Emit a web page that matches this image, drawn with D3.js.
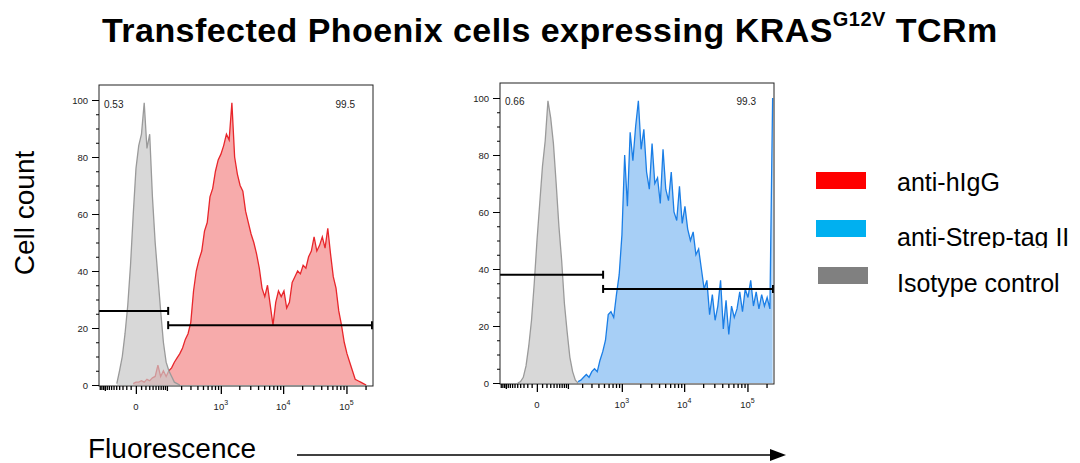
<!DOCTYPE html>
<html>
<head>
<meta charset="utf-8">
<script src="https://cdn.jsdelivr.net/npm/d3@7"></script>
<style>
  body { margin: 0; background: #fff; }
  svg { font-family: "Liberation Sans", Arial, sans-serif; }
</style>
</head>
<body>
<div id="chartdiv"></div>
<script>
/* --- data --- */

// histogram bins span the whole (biexponential-like) x axis
let binCount = 100
let xMin = -135
let xMax = 262143
let symC = 48

// anti-hIgG (left panel), counts per bin starting at bin redStart
let redStart = 12
let redCounts = [0.5, 1, 1, 1.5, 1, 2, 1.5, 2.5, 3, 7, 3, 5, 3, 5, 6, 8, 9.5, 11, 13, 16,
  18, 22, 33, 40, 44, 47, 54, 57, 66, 69, 75, 79, 81, 84, 88, 86, 99, 80, 74, 70,
  68, 61, 57, 53, 50, 46, 41, 34, 31, 35, 28, 21, 29, 33, 31, 33, 27, 29, 36, 38,
  40, 39, 42, 41, 45, 47, 52, 47, 49, 52, 48, 55, 46, 38, 34, 26, 21, 15, 11, 8,
  5, 2, 1.5, 1, 0.5, 0]

// isotype control, left panel
let isoLeftStart = 6
let isoLeftCounts = [0.5, 5, 10, 18, 28, 42, 60, 76, 84, 88, 99, 83, 88, 66, 50, 38, 26, 15, 8, 5,
  3, 1, 0.5, 0]

// anti-Strep-tag II (right panel)
let blueStart = 28
let blueCounts = [0.5, 1, 2, 3, 2, 4, 5, 4, 8, 11, 15, 24, 25, 23, 31, 38, 52, 80, 62, 88,
  78, 90, 99, 82, 89, 74, 68, 84, 70, 72, 63, 82, 68, 64, 74, 60, 57, 69, 56, 62,
  54, 50, 53, 45, 47, 40, 33, 36, 24, 31, 22, 27, 36, 19, 29, 17, 27, 23, 26, 32,
  25, 33, 30, 36, 27, 32, 26, 31, 27, 30, 26, 100]

// isotype control, right panel
let isoRightStart = 6
let isoRightCounts = [0, 0.5, 2, 6, 13, 22, 35, 50, 63, 76, 85, 99, 93, 84, 70, 55, 43, 28, 18, 9,
  4, 1, 0]

// gates: [split value, left gate height, right gate height]
let gateSplit = [107, 483]
let gateLow = [26, 38]
let gateHigh = [21, 33]
let gateLabelsLeft = ["0.53", "0.66"]
let gateLabelsRight = ["99.5", "99.3"]

let yTicks = [0, 20, 40, 60, 80, 100]
let xMajor = [0, 1000, 10000, 100000]
let xMajorLabels = [["0", ""], ["10", "3"], ["10", "4"], ["10", "5"]]

let legendNames = ["anti-hIgG", "anti-Strep-tag II", "Isotype control"]
let legendColors = ["#ff0000", "#00b0f0", "#808080"]

/* -------------------- */

let width = 1080
let height = 463
let panelW = 274
let panelH = 301

let svg = d3.select('#chartdiv')
  .append('svg')
  .attr("width", width)
  .attr("height", height)

// bin centres in fluorescence units (evenly spaced on the transformed axis)
let sym = v => Math.sign(v) * Math.log1p(Math.abs(v) / symC)
let symInv = t => Math.sign(t) * symC * Math.expm1(Math.abs(t))
let tStep = (sym(xMax) - sym(xMin)) / binCount
let binValue = i => symInv(sym(xMin) + (i + 0.5) * tStep)

function toPoints(start, counts) {
  return counts.map((c, k) => ({ v: binValue(start + k), c: c }))
}

// minor ticks of the flow axis
let xMinor = []
for (let v = -130; v <= -10; v += 10) xMinor.push(v)
for (let v = 10; v < 100; v += 10) xMinor.push(v)
for (let d = 100; d <= 10000; d *= 10)
  for (let m = 2; m <= 9; m++) xMinor.push(m * d)
xMinor.push(200000)

function drawPanel(idx, x0, top, series) {
  let g = svg.append("g").attr("transform", `translate(${x0}, ${top})`)

  let xscale = d3.scaleSymlog().constant(symC)
    .domain([xMin, xMax])
    .range([0, panelW])
  let yscale = d3.scaleLinear()
    .domain([0, 100])
    .range([panelH - 1, 15])

  let clipId = "clip" + idx
  g.append("clipPath").attr("id", clipId)
    .append("rect").attr("width", panelW).attr("height", panelH)

  let plot = g.append("g").attr("clip-path", `url(#${clipId})`)
  let area = d3.area()
    .x(d => xscale(d.v))
    .y0(yscale(0))
    .y1(d => yscale(d.c))
  let line = d3.line()
    .x(d => xscale(d.v))
    .y(d => yscale(d.c))

  series.forEach(s => {
    let pts = toPoints(s.start, s.counts)
    plot.append("path").datum(pts)
      .attr("d", area)
      .attr("fill", s.fill)
      .attr("fill-opacity", s.opacity)
    plot.append("path").datum(pts)
      .attr("d", line)
      .attr("fill", "none")
      .attr("stroke", s.stroke)
      .attr("stroke-width", 1.3)
  })

  // gates
  let split = xscale(gateSplit[idx])
  let gates = [
    { a: 0, b: split, y: yscale(gateLow[idx]), ends: [split] },
    { a: split, b: panelW, y: yscale(gateHigh[idx]), ends: [split, panelW - 1] }
  ]
  gates.forEach(gt => {
    g.append("line")
      .attr("x1", gt.a).attr("x2", gt.b)
      .attr("y1", gt.y).attr("y2", gt.y)
      .attr("stroke", "#000").attr("stroke-width", 2)
    gt.ends.forEach(e => {
      g.append("line")
        .attr("x1", e).attr("x2", e)
        .attr("y1", gt.y - 4).attr("y2", gt.y + 4)
        .attr("stroke", "#000").attr("stroke-width", 2)
    })
  })

  g.append("text")
    .attr("x", 5).attr("y", 23 - idx)
    .attr("font-size", 10).attr("fill", "#222")
    .text(gateLabelsLeft[idx])
  g.append("text")
    .attr("x", panelW - 18).attr("y", 23 - idx)
    .attr("text-anchor", "end")
    .attr("font-size", 10).attr("fill", "#222")
    .text(gateLabelsRight[idx])

  // frame
  g.append("rect")
    .attr("width", panelW).attr("height", panelH)
    .attr("fill", "none").attr("stroke", "#222").attr("stroke-width", 1)

  // y axis
  let yMinor = d3.range(0, 101, 5)
  g.append("g").call(d3.axisLeft(yscale).tickValues(yMinor).tickSize(3).tickFormat(""))
    .call(a => a.select(".domain").remove())
  let yAxis = g.append("g").call(d3.axisLeft(yscale).tickValues(yTicks).tickSize(7).tickPadding(4))
  yAxis.select(".domain").remove()
  yAxis.selectAll("text").attr("font-size", 9.5).attr("fill", "#222").attr("font-family", null)

  // x axis
  let xAxisG = g.append("g").attr("transform", `translate(0, ${panelH})`)
  xAxisG.append("g").call(d3.axisBottom(xscale).tickValues(xMinor).tickSize(4).tickFormat(""))
    .call(a => a.select(".domain").remove())
  xAxisG.append("g").call(d3.axisBottom(xscale).tickValues([-100, 100]).tickSize(5).tickFormat(""))
    .call(a => a.select(".domain").remove())
  xAxisG.append("g").call(d3.axisBottom(xscale).tickValues(xMajor).tickSize(8).tickFormat(""))
    .call(a => a.select(".domain").remove())
  xAxisG.selectAll("line").attr("stroke-width", 1.3)

  xMajor.forEach((v, k) => {
    let t = xAxisG.append("text")
      .attr("x", xscale(v)).attr("y", 24)
      .attr("text-anchor", "middle")
      .attr("font-size", 9.5).attr("fill", "#222")
    t.append("tspan").text(xMajorLabels[k][0])
    if (xMajorLabels[k][1] !== "") {
      t.append("tspan").attr("dy", -5).attr("font-size", 7).text(xMajorLabels[k][1])
    }
  })
}

drawPanel(0, 99, 85, [
  { start: redStart, counts: redCounts, fill: "#f48a8a", opacity: 0.72, stroke: "#e8262b" },
  { start: isoLeftStart, counts: isoLeftCounts, fill: "#c8c8c8", opacity: 0.7, stroke: "#9a9a9a" }
])
drawPanel(1, 500, 83, [
  { start: isoRightStart, counts: isoRightCounts, fill: "#c8c8c8", opacity: 0.7, stroke: "#9a9a9a" },
  { start: blueStart, counts: blueCounts, fill: "#85bdf3", opacity: 0.72, stroke: "#1a7ee6" }
])

// title
let title = svg.append("text")
  .attr("x", 102).attr("y", 42)
  .attr("font-size", 34).attr("font-weight", "bold")
  .attr("letter-spacing", 0.45)
title.append("tspan").text("Transfected Phoenix cells expressing KRAS")
title.append("tspan").attr("dy", -16).attr("font-size", 20).text("G12V")
title.append("tspan").attr("dy", 16).text(" TCRm")

// axis titles
svg.append("text")
  .attr("transform", "translate(34, 213) rotate(-90)")
  .attr("text-anchor", "middle")
  .attr("font-size", 28)
  .text("Cell count")

svg.append("text")
  .attr("x", 88).attr("y", 458)
  .attr("font-size", 28)
  .text("Fluorescence")

svg.append("line")
  .attr("x1", 297).attr("x2", 772)
  .attr("y1", 455).attr("y2", 455)
  .attr("stroke", "#000").attr("stroke-width", 1.3)
svg.append("path")
  .attr("d", "M770,449 L786,455 L770,461 Z")
  .attr("fill", "#000")

// legend
let legendY = [172, 220, 267]
let legendTextY = [191, 246, 292]
let legendRectX = [816, 816, 818]
let legendClip = svg.append("clipPath").attr("id", "legclip")
legendClip.append("rect").attr("x", 880).attr("y", 215).attr("width", 200).attr("height", 33)

legendNames.forEach((name, i) => {
  svg.append("rect")
    .attr("x", legendRectX[i]).attr("y", legendY[i])
    .attr("width", 50).attr("height", 17)
    .attr("fill", legendColors[i])
  let t = svg.append("text")
    .attr("x", 897).attr("y", legendTextY[i])
    .attr("font-size", 25)
    .text(name)
  if (i === 1) t.attr("clip-path", "url(#legclip)")
})
</script>
</body>
</html>
